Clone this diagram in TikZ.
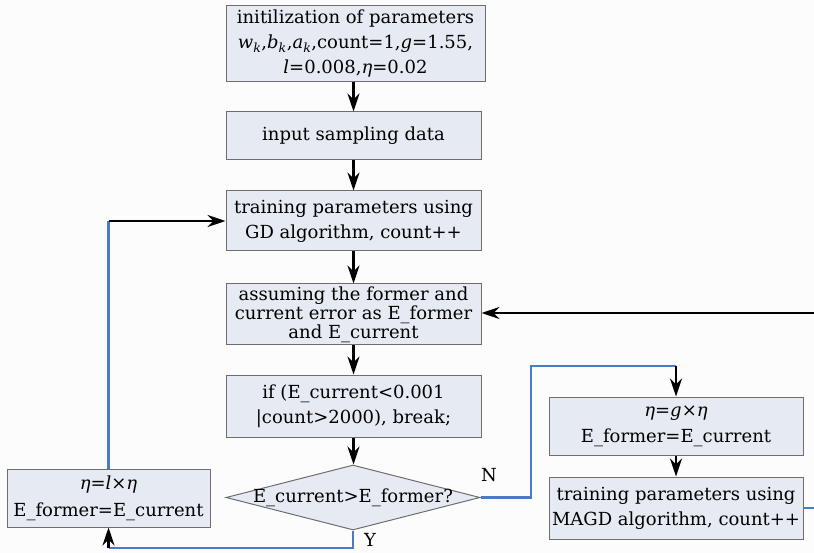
\documentclass[tikz,border=0pt]{standalone}
\usepackage{fontspec}
\setmainfont{DejaVu Serif}
\usetikzlibrary{arrows.meta,shapes.geometric}
\definecolor{boxfill}{HTML}{E6EAF2}
\definecolor{boxline}{HTML}{6E6E6E}
\definecolor{flowblue}{HTML}{4A7CC6}
\newcommand{\vi}[1]{\textit{#1}}
\newcommand{\sbk}{\textsubscript{\textit{k}}}
\begin{document}
\begin{tikzpicture}[x=1pt,y=-1pt,
  font=\fontsize{18}{25}\selectfont,
  box/.style={draw=boxline,fill=boxfill,line width=1pt,inner sep=0pt,align=center},
  cond/.style={diamond,draw=boxline,fill=boxfill,line width=1pt,inner sep=0pt,aspect=3.9},
  tip/.style={-{Stealth[length=18pt,width=12pt,inset=6pt]}},
  flow/.style={tip,draw=black,line width=2.2pt},
  wire/.style={draw=flowblue,line width=2.4pt}]
\useasboundingbox (0,0) rectangle (814,553);
\fill[white!98!gray] (0,0) rectangle (814,553);

% main column
\node[box,minimum width=259pt,minimum height=76pt] (init) at (355.5,44)
  {initilization of parameters\\
   \vi{w}\sbk,\vi{b}\sbk,\vi{a}\sbk,count=1,\vi{g}=1.55,\\
   \vi{l}=0.008,\vi{η}=0.02};
\node[box,minimum width=255pt,minimum height=48pt] (input) at (353.5,136)
  {input sampling data};
\node[box,minimum width=255pt,minimum height=60pt] (gd) at (353.5,221)
  {training parameters using\\GD algorithm, count++};
\node[box,minimum width=255pt,minimum height=61pt,
  font=\fontsize{18}{19}\selectfont] (err) at (353.5,314.5)
  {assuming the former and\\current error as E\_former\\and E\_current};
\node[box,minimum width=255pt,minimum height=62pt] (stop) at (353.5,406)
  {if (E\_current<0.001\\|count>2000), break;};
\node[cond,minimum width=254pt,minimum height=65pt] (cmp) at (353,497.5) {};
\node at (cmp.center) {E\_current>E\_former?};

% side branches
\node[box,minimum width=203pt,minimum height=58pt,
  font=\fontsize{18}{27}\selectfont] (dec) at (108.5,498)
  {\vi{η}=\vi{l}×\vi{η}\\E\_former=E\_current};
\node[box,minimum width=254pt,minimum height=58pt,
  font=\fontsize{18}{26}\selectfont] (inc) at (676,426)
  {\vi{η}=\vi{g}×\vi{η}\\E\_former=E\_current};
\node[box,minimum width=254pt,minimum height=62pt] (magd) at (676,508)
  {training parameters using\\MAGD algorithm, count++};

% straight steps
\draw[flow] (init.south -| input.north) -- (input.north);
\draw[flow] (input) -- (gd);
\draw[flow] (gd) -- (err);
\draw[flow] (err) -- (stop);
\draw[flow] (stop.south) -- (stop.south |- cmp.north);
\draw[flow] (inc) -- (magd);

% branch N
\coordinate (nA) at (531,497.5);
\coordinate (nB) at (531,366);
\coordinate (nC) at (inc.north |- nB);
\draw[wire] (cmp.east) -- (nA) -- (nB) -- (nC);
\draw[flow] (nC) -- (inc.north);
\node[anchor=south] at (489,485) {N};

% branch Y
\coordinate (yA) at (cmp.south |- 0,548);
\coordinate (yB) at (dec.south |- 0,548);
\draw[wire] (cmp.south) -- (yA) -- (yB);
\draw[flow] (yB) -- (dec.south);
\node at (370,540) {Y};

% return to GD training
\coordinate (gA) at (dec.north |- gd.west);
\draw[wire] (dec.north) -- (gA);
\draw[flow] (gA) -- (gd.west);

% return from MAGD training
\coordinate (mA) at (818,508);
\coordinate (mB) at (818,313);
\draw[wire] (magd.east) -- (mA) -- (mB);
\draw[flow] (mB) -- (err.east |- mB);
\end{tikzpicture}
\end{document}
